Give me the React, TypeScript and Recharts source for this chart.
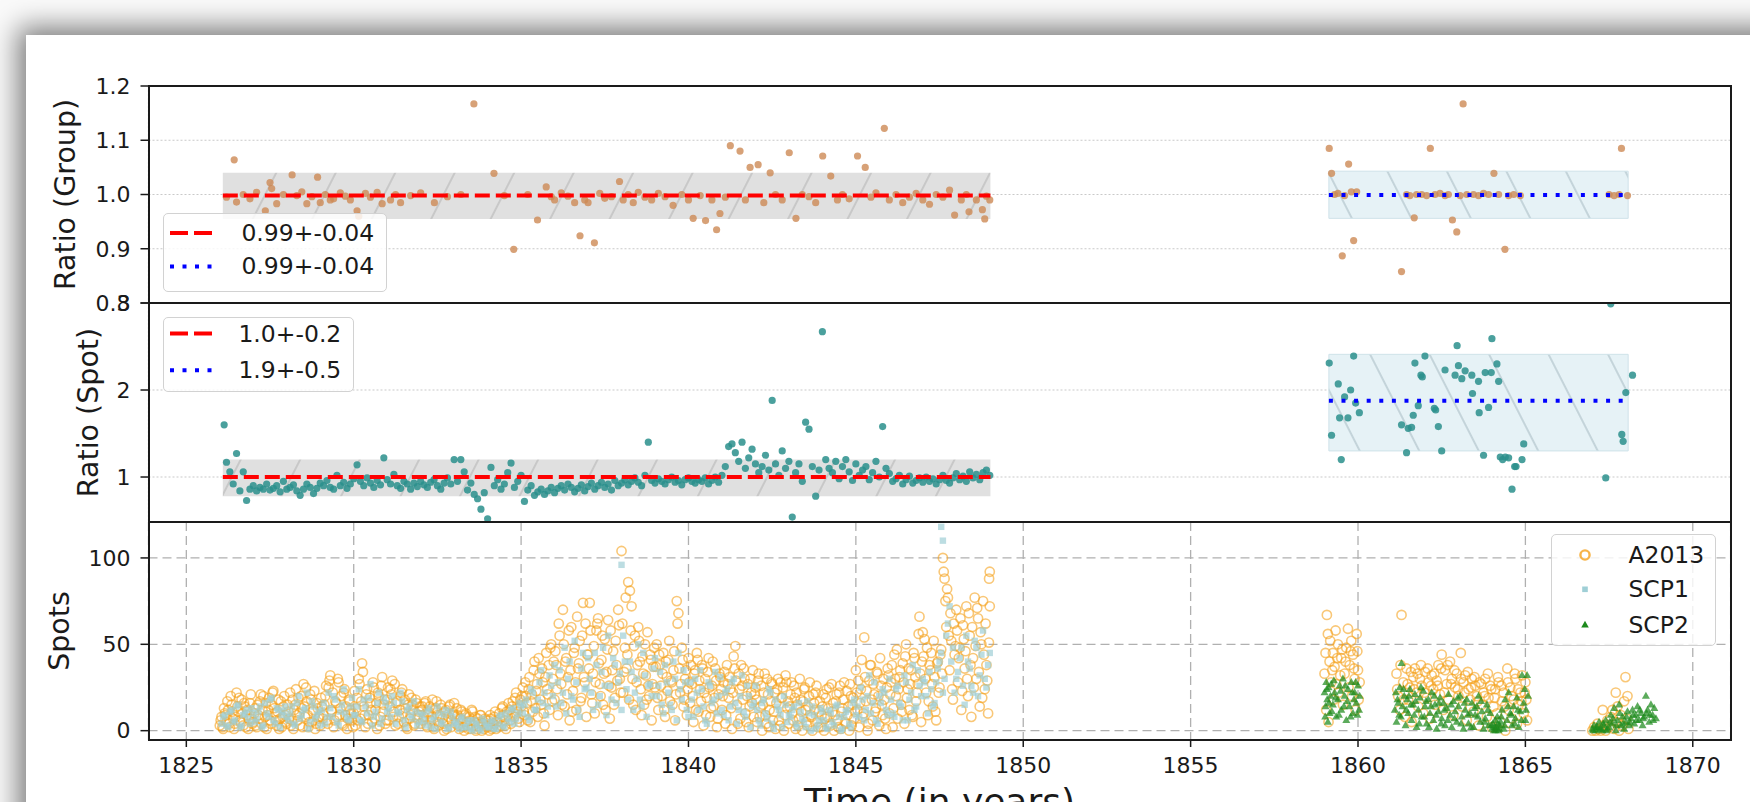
import React from 'react';
import { ScatterChart, Scatter, XAxis, YAxis, CartesianGrid, ReferenceArea } from 'recharts';

// ---- axes ----
const YEAR_TICKS = [1825, 1830, 1835, 1840, 1845, 1850, 1855, 1860, 1865, 1870];
const YEAR_DOMAIN = [1823.87, 1871.13];
const GROUP_TICKS = [0.8, 0.9, 1.0, 1.1, 1.2];
const SPOT_TICKS = [1, 2, 3];
const SPOTS_TICKS = [0, 50, 100];

// ---- fits: [from, to, mean, low, high] ----
const groupFitEarly = [1826.09, 1849.02, 0.998, 0.955, 1.04];
const groupFitLate = [1859.13, 1868.07, 0.999, 0.956, 1.043];
const spotFitEarly = [1826.09, 1849.02, 1.0, 0.78, 1.2];
const spotFitLate = [1859.13, 1868.07, 1.877, 1.3, 2.41];

const groupLegend = ['0.99+-0.04', '0.99+-0.04'];
const spotLegend = ['1.0+-0.2', '1.9+-0.5'];
const spotsLegend = ['A2013', 'SCP1', 'SCP2'];

// ---- ratio (group) points, [year, ratio] ----
const groupEarly = [
  [1826.2, 0.995], [1826.43, 1.064], [1826.5, 0.986], [1826.7, 1.0], [1826.9, 0.992], [1827.1, 1.004],
  [1827.36, 0.97], [1827.5, 1.022], [1827.55, 1.011], [1827.7, 0.983], [1827.9, 1.0], [1828.16, 1.036],
  [1828.3, 0.998], [1828.45, 1.005], [1828.6, 0.983], [1828.75, 0.996], [1828.92, 1.032], [1829.0, 0.985],
  [1829.15, 1.0], [1829.3, 0.99], [1829.4, 0.992], [1829.6, 1.003], [1829.75, 0.997], [1829.9, 0.99],
  [1830.1, 0.97], [1830.15, 0.96], [1830.35, 1.002], [1830.5, 0.995], [1830.7, 1.004], [1830.85, 0.983],
  [1831.1, 0.99], [1831.25, 1.0], [1831.4, 0.985], [1831.7, 0.998], [1832.0, 1.003], [1832.41, 0.985],
  [1832.8, 0.996], [1833.2, 1.0], [1833.59, 1.167], [1834.19, 1.039], [1834.5, 0.998], [1834.78, 0.899],
  [1835.2, 1.0], [1835.49, 0.953], [1835.75, 1.014], [1835.9, 0.996], [1836.0, 0.99], [1836.2, 1.003],
  [1836.4, 0.997], [1836.6, 0.985], [1836.76, 0.924], [1836.9, 0.99], [1837.0, 0.985], [1837.19, 0.911],
  [1837.35, 1.002], [1837.5, 0.993], [1837.7, 0.996], [1837.94, 1.024], [1838.05, 0.99], [1838.2, 1.0],
  [1838.35, 0.985], [1838.5, 1.004], [1838.7, 0.995], [1838.9, 0.99], [1839.1, 1.002], [1839.3, 0.996],
  [1839.54, 0.98], [1839.8, 1.0], [1840.0, 0.99], [1840.14, 0.956], [1840.35, 0.998], [1840.51, 0.952],
  [1840.7, 0.99], [1840.84, 0.935], [1840.94, 0.965], [1841.1, 0.995], [1841.25, 1.09], [1841.54, 1.08],
  [1841.7, 0.99], [1841.84, 1.05], [1842.08, 1.055], [1842.25, 0.985], [1842.44, 1.04], [1842.6, 1.0],
  [1842.8, 0.99], [1843.01, 1.077], [1843.21, 0.956], [1843.4, 1.0], [1843.6, 0.996], [1843.8, 0.985],
  [1844.01, 1.071], [1844.25, 1.034], [1844.45, 0.99], [1844.6, 1.0], [1844.8, 0.992], [1845.05, 1.071],
  [1845.28, 1.05], [1845.45, 0.995], [1845.6, 1.003], [1845.85, 1.122], [1846.0, 0.99], [1846.2, 1.0],
  [1846.4, 0.985], [1846.6, 0.995], [1846.8, 1.002], [1847.0, 0.99], [1847.2, 0.982], [1847.4, 1.0],
  [1847.6, 0.995], [1847.8, 1.008], [1847.95, 0.962], [1848.15, 0.99], [1848.3, 1.0], [1848.38, 0.968],
  [1848.6, 0.99], [1848.78, 0.972], [1848.85, 0.955], [1848.9, 0.997], [1849.0, 0.99],
];
const groupLate = [
  [1859.14, 1.085], [1859.21, 1.039], [1859.3, 1.0], [1859.4, 1.002], [1859.53, 0.887], [1859.6, 0.998],
  [1859.72, 1.056], [1859.8, 1.005], [1859.87, 0.915], [1859.96, 1.005], [1861.3, 0.858], [1861.45, 1.0],
  [1861.55, 0.998], [1861.68, 0.957], [1861.75, 1.0], [1861.9, 1.0], [1862.05, 0.998], [1862.16, 1.085],
  [1862.3, 1.0], [1862.45, 1.002], [1862.6, 0.998], [1862.7, 1.0], [1862.82, 0.953], [1862.95, 0.931],
  [1863.05, 0.998], [1863.14, 1.167], [1863.25, 1.0], [1863.45, 1.0], [1863.6, 0.998], [1863.75, 1.002],
  [1863.9, 1.0], [1864.06, 1.039], [1864.2, 1.0], [1864.39, 0.899], [1864.5, 0.998], [1864.65, 1.0],
  [1864.85, 0.998], [1867.5, 1.0], [1867.65, 0.998], [1867.8, 1.0], [1867.87, 1.085], [1868.05, 0.998],
];

// ---- ratio (spot): early period sampled every 0.1 yr from 1826.2 ----
const spotEarlyStart = 1826.2;
const spotEarly = [
  1.17, 1.06, 0.92, 1.27, 0.84, 1.06, 0.73, 0.86, 0.9, 0.84,
  0.88, 0.86, 0.92, 0.85, 0.87, 0.9, 0.83, 0.95, 0.86, 0.88,
  0.91, 0.84, 0.79, 0.86, 0.92, 0.88, 0.81, 0.87, 0.93, 0.9,
  0.96, 0.88, 0.86, 1.02, 0.9, 0.94, 0.87, 0.92, 0.98, 1.14,
  0.95, 0.9, 0.99, 0.93, 0.88, 0.96, 0.91, 1.22, 0.97, 0.92,
  1.03, 0.9, 0.87, 0.95, 0.92, 0.86, 0.93, 0.89, 0.95, 0.91,
  0.88, 0.94, 0.97, 0.9, 0.86, 0.93, 0.99, 0.92, 1.2, 0.95,
  1.2, 1.06, 0.85, 0.93, 0.8, 0.75, 0.63, 0.82, 0.52, 1.11,
  0.9, 0.97, 0.86, 0.92, 1.05, 1.16, 0.88, 0.95, 1.02, 0.72,
  0.85, 0.9, 0.79, 0.83, 0.86, 0.8, 0.84, 0.88, 0.82, 0.87,
  0.9, 0.85, 0.92, 0.88, 0.83, 0.87, 0.91, 0.84, 0.89, 0.93,
  0.86, 0.9, 0.94, 0.88, 0.92, 0.85, 0.96, 0.9, 0.93, 0.97,
  0.91, 0.95, 0.99, 0.94, 0.9, 1.02, 1.4, 0.96, 0.93, 0.98,
  0.95, 0.92, 0.97, 1.0, 0.94, 0.96, 0.91, 0.97, 0.99, 0.95,
  0.93, 0.97, 0.95, 0.99, 0.92, 0.96, 1.0, 0.94, 1.02, 1.12,
  1.35, 1.38, 1.28, 1.18, 1.4, 1.1, 1.22, 1.32, 1.15, 1.05,
  1.12, 1.25, 1.08, 1.88, 1.15, 1.02, 1.3, 1.1, 1.18, 0.54,
  1.05, 1.15, 0.95, 1.63, 1.55, 1.12, 0.78, 1.08, 2.67, 1.2,
  1.1, 1.05, 1.18, 0.98, 1.12, 1.2, 1.06, 0.96, 1.15, 1.02,
  1.08, 1.12, 0.97, 1.05, 1.18, 1.0, 1.58, 1.1, 1.04, 0.95,
  0.98, 1.02, 0.92, 0.97, 1.01, 0.93, 0.96, 0.99, 0.94, 1.0,
  0.95, 0.98, 0.92, 0.97, 1.02, 0.96, 0.93, 0.99, 1.04, 0.97,
  1.01, 0.95, 1.06, 0.99, 1.03, 0.97, 1.05, 1.08, 1.02,
];
const spotEarlyExtra = [[1826.13, 1.6]];
const spotLate = [
  [1859.14, 2.31], [1859.21, 1.48], [1859.41, 2.07], [1859.45, 1.68], [1859.5, 1.2], [1859.6, 1.92],
  [1859.7, 1.68], [1859.78, 2.0], [1859.87, 2.39], [1859.93, 1.85], [1860.04, 1.74], [1861.3, 1.6],
  [1861.45, 1.28], [1861.5, 1.56], [1861.6, 1.57], [1861.65, 1.71], [1861.7, 2.31], [1861.8, 1.82],
  [1861.88, 2.17], [1861.92, 2.15], [1862.0, 2.39], [1862.28, 1.79], [1862.32, 1.77], [1862.4, 1.58],
  [1862.5, 1.3], [1862.6, 2.23], [1862.9, 2.17], [1862.96, 2.51], [1863.0, 2.28], [1863.1, 2.13],
  [1863.2, 2.22], [1863.4, 2.17], [1863.42, 1.96], [1863.6, 2.1], [1863.62, 1.74], [1863.75, 1.25],
  [1863.8, 2.2], [1863.9, 1.8], [1863.98, 2.2], [1864.0, 2.59], [1864.15, 2.3], [1864.2, 2.1],
  [1864.25, 1.23], [1864.32, 1.2], [1864.4, 1.23], [1864.5, 1.22], [1864.6, 0.86], [1864.68, 1.12],
  [1864.72, 1.12], [1864.9, 1.2], [1864.95, 1.38], [1867.4, 0.99], [1867.55, 2.99], [1867.88, 1.49],
  [1867.92, 1.41], [1868.0, 1.97], [1868.2, 2.17],
];

// ---- spots: A2013 early period, two interleaved runs sampled every 0.05 yr ----
const a2013EarlyStart = 1826.0;
const a2013Early = [
  3, 8, 1, 10, 5, 12, 2, 15, 7, 4, 22, 11, 6, 18, 3, 14, 9, 1, 16, 7,
  5, 13, 2, 9, 17, 4, 20, 8, 1, 12, 6, 15, 23, 10, 3, 18, 7, 2, 14, 9,
  4, 11, 22, 6, 1, 15, 9, 19, 3, 13, 27, 8, 17, 2, 21, 5, 12, 1, 16, 7,
  3, 14, 9, 20, 6, 25, 32, 11, 2, 17, 8, 28, 13, 4, 22, 9, 1, 18, 12, 6,
  10, 3, 19, 30, 7, 39, 14, 2, 24, 9, 16, 5, 25, 12, 1, 20, 8, 31, 15, 4,
  18, 6, 24, 29, 11, 3, 17, 8, 20, 24, 5, 13, 1, 21, 9, 15, 3, 18, 7, 11,
  4, 14, 8, 17, 2, 11, 6, 18, 1, 13, 9, 3, 15, 7, 0, 12, 5, 14, 2, 9,
  16, 4, 9, 1, 12, 6, 0, 10, 3, 8, 1, 11, 5, 0, 7, 2, 9, 4, 1, 6,
  3, 0, 7, 2, 8, 1, 5, 10, 3, 14, 6, 1, 9, 12, 4, 17, 8, 22, 11, 5,
  14, 25, 9, 20, 6, 31, 17, 11, 40, 23, 8, 33, 15, 28, 3, 45, 21, 12, 50, 30,
  18, 38, 9, 55, 27, 70, 14, 42, 31, 6, 60, 23, 48, 12, 36, 52, 19, 74, 28, 8,
  44, 74, 21, 33, 10, 58, 65, 27, 41, 15, 53, 34, 64, 7, 25, 46, 19, 38, 70, 30,
  104, 22, 48, 36, 86, 81, 72, 15, 55, 28, 60, 40, 9, 33, 50, 18, 26, 44, 6, 37,
  25, 50, 12, 38, 20, 45, 8, 31, 41, 17, 28, 35, 6, 75, 68, 22, 48, 14, 30, 9,
  42, 16, 27, 5, 35, 45, 11, 24, 38, 3, 30, 19, 42, 8, 26, 14, 36, 2, 21, 31,
  12, 28, 4, 38, 19, 24, 1, 43, 49, 15, 33, 7, 26, 36, 10, 20, 2, 30, 16, 8,
  25, 5, 33, 14, 0, 22, 9, 30, 2, 17, 27, 11, 1, 24, 6, 28, 19, 0, 32, 13,
  4, 21, 10, 26, 1, 15, 7, 18, 0, 24, 12, 3, 20, 9, 0, 16, 22, 5, 11, 2,
  14, 0, 19, 8, 25, 3, 11, 0, 17, 6, 22, 1, 13, 28, 4, 9, 0, 20, 15, 7,
  35, 12, 2, 24, 8, 54, 17, 0, 29, 38, 6, 21, 13, 33, 3, 26, 9, 18, 1, 36,
  10, 28, 2, 44, 20, 7, 31, 15, 39, 4, 50, 24, 12, 35, 8, 42, 17, 27, 66, 5,
  57, 53, 22, 9, 38, 45, 14, 31, 6, 40, 25, 47, 100, 88, 60, 77, 35, 52, 18, 44,
  70, 28, 48, 12, 61, 36, 72, 20, 55, 8, 42, 77, 30, 65, 14, 50, 75, 24, 38, 10,
  92,
];
const a2013EarlyBStart = 1826.025;
const a2013EarlyB = [
  6, 2, 13, 9, 17, 4, 20, 11, 1, 8, 14, 19, 5, 10, 16, 2, 12, 7, 21, 4,
  10, 3, 15, 7, 21, 12, 2, 16, 9, 19, 4, 22, 13, 6, 11, 1, 17, 8, 20, 5,
  15, 7, 3, 18, 12, 24, 6, 10, 20, 2, 14, 25, 9, 5, 18, 11, 23, 4, 13, 8,
  19, 7, 15, 26, 4, 29, 12, 22, 6, 16, 30, 9, 20, 3, 24, 14, 7, 17, 10, 2,
  23, 13, 6, 27, 17, 34, 9, 21, 4, 19, 12, 28, 7, 16, 22, 3, 26, 11, 18, 6,
  25, 14, 21, 8, 27, 16, 4, 12, 22, 10, 18, 2, 15, 7, 19, 12, 4, 16, 9, 14,
  12, 6, 16, 3, 10, 14, 8, 2, 12, 17, 5, 9, 13, 4, 11, 1, 8, 15, 6, 10,
  9, 13, 3, 7, 11, 2, 9, 5, 1, 6, 12, 3, 8, 1, 5, 9, 0, 4, 7, 2,
  6, 9, 1, 4, 11, 5, 2, 7, 13, 9, 3, 11, 16, 6, 14, 10, 19, 13, 7, 18,
  20, 11, 28, 16, 24, 5, 21, 35, 13, 27, 42, 18, 36, 10, 31, 24, 38, 48, 17, 40,
  46, 24, 62, 33, 15, 50, 40, 21, 58, 35, 11, 45, 28, 66, 39, 17, 55, 31, 62, 44,
  36, 58, 16, 49, 28, 62, 39, 20, 55, 33, 12, 47, 26, 58, 35, 15, 52, 29, 61, 22,
  62, 34, 77, 44, 18, 58, 30, 49, 12, 38, 52, 24, 43, 15, 32, 57, 20, 41, 27, 48,
  37, 19, 44, 26, 33, 12, 40, 23, 52, 29, 15, 46, 21, 62, 36, 27, 41, 18, 35, 24,
  28, 38, 20, 33, 12, 41, 29, 17, 36, 22, 9, 34, 25, 13, 40, 19, 29, 7, 33, 24,
  20, 34, 9, 27, 31, 13, 22, 36, 29, 4, 24, 38, 18, 30, 5, 27, 14, 22, 35, 21,
  18, 29, 8, 26, 15, 33, 4, 21, 12, 28, 6, 22, 16, 30, 3, 19, 25, 9, 28, 17,
  14, 28, 6, 19, 22, 3, 30, 11, 17, 25, 5, 14, 28, 8, 21, 12, 26, 2, 17, 9,
  21, 7, 24, 13, 4, 27, 16, 9, 21, 2, 26, 11, 18, 5, 23, 14, 27, 3, 19, 11,
  22, 29, 16, 41, 10, 31, 23, 4, 38, 18, 27, 11, 34, 20, 42, 15, 30, 7, 25, 32,
  21, 38, 13, 30, 47, 24, 35, 11, 28, 43, 19, 36, 27, 9, 45, 31, 22, 56, 33, 40,
  43, 30, 48, 17, 35, 27, 52, 11, 39, 22, 44, 33, 92, 75, 82, 55, 68, 24, 62, 49,
  58, 42, 65, 23, 53, 46, 30, 68, 38, 60, 25, 49, 71, 34, 57, 19, 44, 62, 29, 51,
];
const a2013EarlyExtra = [[1848.98, 88], [1849.0, 72]];
const a2013Late = [
  [1859.0, 33], [1859.05, 12], [1859.07, 67], [1859.1, 56], [1859.12, 5], [1859.15, 40], [1859.2, 28],
  [1859.25, 45], [1859.28, 18], [1859.3, 37], [1859.35, 27], [1859.4, 50], [1859.42, 22], [1859.5, 42],
  [1859.55, 15], [1859.6, 33], [1859.65, 48], [1859.7, 59], [1859.72, 25], [1859.75, 38], [1859.8, 52],
  [1859.82, 20], [1859.85, 44], [1859.9, 30], [1859.93, 12], [1859.96, 56], [1860.0, 35], [1860.02, 18],
  [1860.05, 28], [1861.3, 67],
  [1859.03, 45], [1859.17, 52], [1859.23, 35], [1859.33, 58], [1859.38, 42], [1859.47, 32], [1859.53, 47],
  [1859.63, 40], [1859.78, 46], [1859.88, 36], [1859.98, 46],
  [1861.15, 33], [1861.2, 20], [1861.25, 12], [1861.35, 28], [1861.4, 8], [1861.45, 36], [1861.5, 18],
  [1861.55, 25], [1861.6, 5], [1861.65, 31], [1861.7, 36], [1861.75, 22], [1861.8, 14], [1861.85, 30],
  [1861.9, 26], [1861.95, 10], [1862.0, 34], [1862.05, 19], [1862.1, 28], [1862.15, 7], [1862.2, 32],
  [1862.25, 24], [1862.3, 15], [1862.35, 29], [1862.4, 38], [1862.45, 21], [1862.5, 44], [1862.55, 12],
  [1862.6, 35], [1862.65, 27], [1862.7, 18], [1862.75, 40], [1862.8, 30], [1862.85, 9], [1862.9, 25],
  [1862.95, 33], [1863.0, 20], [1863.07, 45], [1863.1, 14], [1863.15, 28], [1863.2, 32], [1863.25, 6],
  [1863.3, 24], [1863.35, 18], [1863.4, 30], [1863.45, 11], [1863.5, 26], [1863.55, 20], [1863.6, 3],
  [1863.63, 28], [1863.7, 15], [1863.75, 22], [1863.8, 30], [1863.85, 8], [1863.9, 19], [1863.95, 26],
  [1864.0, 2], [1864.05, 14], [1864.1, 24], [1864.15, 10], [1864.2, 28], [1864.25, 5], [1864.3, 17],
  [1864.35, 22], [1864.4, 0], [1864.46, 36], [1864.5, 12], [1864.55, 25], [1864.6, 7], [1864.65, 18],
  [1864.7, 30], [1864.75, 4], [1864.8, 15], [1864.85, 22], [1864.9, 32], [1864.95, 10], [1865.0, 28],
  [1865.03, 18], [1865.05, 6],
  [1861.17, 24], [1861.27, 38], [1861.37, 18], [1861.48, 27], [1861.58, 34], [1861.68, 24], [1861.78, 33],
  [1861.88, 38], [1861.98, 22], [1862.08, 36], [1862.18, 26], [1862.28, 33], [1862.38, 26], [1862.48, 36],
  [1862.58, 22], [1862.68, 38], [1862.78, 27], [1862.88, 35], [1862.98, 24], [1863.08, 30], [1863.18, 22],
  [1863.28, 34], [1863.38, 25], [1863.48, 31], [1863.58, 17], [1863.68, 27], [1863.78, 20], [1863.88, 33],
  [1863.98, 24], [1864.08, 19], [1864.18, 31], [1864.28, 26], [1864.38, 14], [1864.48, 28], [1864.58, 20],
  [1864.68, 33], [1864.78, 24], [1864.88, 17], [1864.98, 22],
  [1867.0, 0], [1867.05, 2], [1867.1, 0], [1867.15, 4], [1867.2, 1], [1867.25, 0], [1867.31, 12],
  [1867.35, 3], [1867.4, 0], [1867.45, 6], [1867.5, 2], [1867.55, 8], [1867.6, 12], [1867.65, 1],
  [1867.7, 22], [1867.72, 5], [1867.75, 14], [1867.8, 0], [1867.85, 9], [1867.9, 3], [1867.95, 17],
  [1867.99, 31], [1868.02, 7], [1868.05, 20], [1868.08, 1],
];

// ---- spots: SCP1 early period, two interleaved runs sampled every 0.1 yr ----
const scp1EarlyStart = 1826.05;
const scp1Early = [
  4, 9, 2, 12, 6, 15, 3, 10, 7, 13,
  5, 11, 2, 16, 8, 19, 4, 12, 9, 14,
  6, 14, 3, 20, 9, 13, 1, 17, 7, 11,
  12, 4, 22, 8, 18, 3, 15, 10, 6, 19,
  9, 24, 5, 14, 19, 3, 11, 22, 7, 16,
  13, 20, 4, 10, 17, 2, 14, 7, 11, 5,
  9, 3, 13, 6, 1, 10, 4, 12, 2, 8,
  5, 1, 8, 2, 6, 0, 4, 1, 7, 3,
  2, 6, 1, 8, 3, 10, 5, 13, 7, 16,
  10, 18, 6, 22, 12, 28, 16, 9, 32, 20,
  14, 35, 22, 10, 40, 18, 28, 8, 45, 25,
  30, 12, 38, 20, 48, 9, 26, 42, 16, 33,
  55, 24, 40, 12, 30, 18, 45, 8, 27, 36,
  20, 34, 10, 28, 15, 40, 6, 24, 35, 12,
  28, 8, 22, 35, 14, 4, 26, 18, 10, 31,
  9, 24, 14, 30, 4, 20, 11, 26, 2, 16,
  12, 3, 18, 7, 22, 1, 14, 9, 20, 5,
  8, 14, 2, 11, 5, 17, 0, 9, 3, 13,
  6, 1, 10, 3, 15, 0, 8, 12, 2, 18,
  14, 25, 6, 20, 10, 28, 4, 16, 22, 9,
  18, 8, 26, 14, 32, 6, 22, 12, 35, 20,
  28, 10, 24, 16, 36, 45, 30, 62, 40, 22,
  34, 48, 15, 40, 26, 52, 20, 44, 30, 38,
];
const scp1EarlyBStart = 1826.1;
const scp1EarlyB = [
  8, 3, 11, 5, 14, 2, 9, 12, 4, 10,
  7, 14, 3, 10, 18, 6, 13, 2, 11, 8,
  10, 4, 16, 7, 12, 22, 5, 14, 9, 3,
  16, 8, 13, 20, 5, 11, 24, 7, 14, 9,
  14, 6, 18, 10, 27, 8, 16, 4, 19, 11,
  8, 16, 11, 22, 6, 12, 9, 17, 3, 10,
  6, 11, 2, 8, 14, 5, 9, 1, 11, 4,
  3, 7, 2, 5, 1, 6, 3, 0, 5, 2,
  5, 1, 4, 9, 2, 7, 12, 4, 10, 14,
  15, 8, 24, 12, 18, 35, 22, 14, 26, 38,
  28, 16, 48, 30, 20, 52, 12, 36, 24, 42,
  22, 45, 15, 34, 26, 55, 18, 38, 28, 12,
  40, 18, 34, 22, 50, 14, 32, 26, 20, 42,
  26, 15, 38, 22, 12, 30, 45, 18, 28, 8,
  18, 30, 12, 24, 6, 28, 16, 34, 20, 12,
  22, 6, 28, 16, 12, 32, 8, 20, 14, 26,
  6, 16, 10, 24, 4, 18, 12, 2, 15, 9,
  12, 4, 16, 7, 2, 10, 14, 1, 6, 11,
  2, 12, 5, 14, 8, 1, 11, 4, 16, 9,
  8, 18, 12, 32, 16, 6, 20, 24, 12, 30,
  10, 24, 16, 6, 28, 18, 38, 14, 26, 30,
  20, 34, 14, 28, 40, 22, 55, 72, 48, 30,
  42, 26, 55, 36, 22, 48, 32, 58, 25, 45,
];
const scp1EarlyExtra = [[1838.0, 96], [1847.55, 118], [1847.6, 110]];

// ---- spots: SCP2, [year, spots] ----
const scp2Late = [
  [1859.0, 22], [1859.03, 14], [1859.05, 28], [1859.08, 18], [1859.1, 5], [1859.12, 25], [1859.15, 10],
  [1859.18, 20], [1859.2, 27], [1859.25, 15], [1859.3, 22], [1859.35, 8], [1859.4, 18], [1859.45, 26],
  [1859.5, 12], [1859.55, 30], [1859.6, 20], [1859.65, 6], [1859.7, 24], [1859.75, 14], [1859.8, 28],
  [1859.85, 10], [1859.9, 22], [1859.95, 16], [1860.0, 26], [1860.03, 12], [1860.05, 20],
  [1859.02, 8], [1859.07, 24], [1859.13, 16], [1859.22, 11], [1859.28, 29], [1859.33, 19], [1859.43, 9],
  [1859.48, 23], [1859.58, 14], [1859.62, 26], [1859.68, 17], [1859.78, 8], [1859.83, 22], [1859.88, 18],
  [1859.93, 28], [1859.98, 9],
  [1861.1, 12], [1861.13, 22], [1861.15, 5], [1861.2, 16], [1861.25, 25], [1861.28, 8], [1861.3, 39],
  [1861.33, 14], [1861.38, 20], [1861.42, 3], [1861.47, 18], [1861.5, 10], [1861.55, 24], [1861.6, 6],
  [1861.65, 15], [1861.7, 21], [1861.75, 2], [1861.8, 12], [1861.85, 19], [1861.9, 8], [1861.95, 23],
  [1862.0, 14], [1862.05, 4], [1862.1, 18], [1862.15, 10], [1862.2, 22], [1862.25, 6], [1862.3, 15],
  [1862.35, 1], [1862.4, 11], [1862.45, 19], [1862.5, 7], [1862.55, 16], [1862.6, 3], [1862.65, 13],
  [1862.7, 21], [1862.75, 9], [1862.8, 2], [1862.85, 17], [1862.9, 11], [1862.95, 5], [1863.0, 14],
  [1863.05, 20], [1863.1, 8], [1863.15, 1], [1863.2, 12], [1863.25, 18], [1863.3, 4], [1863.35, 10],
  [1863.4, 16], [1863.45, 2], [1863.5, 9], [1863.55, 14], [1863.6, 20], [1863.65, 5], [1863.7, 11],
  [1863.75, 1], [1863.8, 7], [1863.85, 15], [1863.9, 3], [1863.95, 10], [1864.0, 1], [1864.03, 4],
  [1864.06, 0], [1864.1, 6], [1864.13, 2], [1864.16, 8], [1864.2, 0], [1864.23, 3], [1864.26, 5],
  [1864.3, 12], [1864.35, 1], [1864.4, 18], [1864.45, 6], [1864.5, 22], [1864.55, 10], [1864.6, 3],
  [1864.65, 14], [1864.7, 7], [1864.75, 19], [1864.8, 2], [1864.85, 11], [1864.9, 32], [1864.95, 16],
  [1865.0, 6], [1865.05, 32], [1865.08, 20],
  [1861.18, 18], [1861.23, 9], [1861.36, 24], [1861.44, 12], [1861.52, 20], [1861.58, 15], [1861.68, 9],
  [1861.72, 17], [1861.83, 4], [1861.88, 25], [1861.98, 8], [1862.03, 17], [1862.12, 2], [1862.18, 14],
  [1862.28, 20], [1862.33, 9], [1862.42, 16], [1862.48, 4], [1862.58, 12], [1862.68, 6], [1862.78, 15],
  [1862.88, 7], [1862.98, 19], [1863.08, 4], [1863.18, 16], [1863.28, 9], [1863.38, 2], [1863.48, 13],
  [1863.58, 8], [1863.68, 17], [1863.78, 5], [1863.88, 12], [1863.98, 3], [1864.08, 2], [1864.11, 0],
  [1864.18, 4], [1864.22, 1], [1864.28, 8], [1864.38, 3], [1864.48, 14], [1864.58, 9], [1864.68, 4],
  [1864.78, 12], [1864.88, 6], [1864.98, 24], [1865.02, 12],
  [1867.0, 1], [1867.05, 3], [1867.1, 0], [1867.15, 2], [1867.2, 5], [1867.25, 1], [1867.3, 0],
  [1867.35, 3], [1867.4, 6], [1867.45, 1], [1867.5, 2], [1867.55, 9], [1867.6, 4], [1867.65, 13],
  [1867.7, 0], [1867.75, 6], [1867.8, 15], [1867.85, 3], [1867.9, 8], [1867.95, 1], [1868.0, 5],
  [1868.05, 11], [1868.1, 3], [1868.15, 7], [1868.2, 12], [1868.25, 4], [1868.3, 9], [1868.35, 14],
  [1868.4, 6], [1868.45, 10], [1868.5, 3], [1868.55, 8], [1868.6, 20], [1868.65, 12], [1868.7, 5],
  [1868.75, 15], [1868.8, 9], [1868.85, 13], [1868.9, 7],
  [1867.02, 0], [1867.12, 2], [1867.22, 1], [1867.32, 4], [1867.42, 0], [1867.52, 5], [1867.62, 7],
  [1867.72, 3], [1867.82, 10], [1867.92, 4], [1868.02, 8], [1868.12, 5], [1868.22, 9], [1868.32, 6],
  [1868.42, 12], [1868.52, 7], [1868.62, 10], [1868.72, 9], [1868.82, 6],
];

// ---- helpers ----
const pts = (pairs: number[][]) => pairs.map(([x, y]) => ({ x, y }));
const sampled = (start: number, step: number, vals: number[]) =>
  vals.map((y, i) => ({ x: +(start + i * step).toFixed(3), y }));
const fitLine = (f: number[]) => [{ x: f[0], y: f[2] }, { x: f[1], y: f[2] }];

const FONT = 'DejaVu Sans';
const INK = '#1a1a1a';
const RED = '#ff0000';
const BLUE = '#0000ff';
const GROUP_C = '#cd8a55';
const SPOT_C = '#2a8f8c';
const A_C = '#f5a11c';
const S1_C = '#9fcfd6';
const S2_C = '#1d8a1d';

const CHART_W = 1750;
const PLOT_L = 148.5;
const PLOT_R = 1730.6;
const MR = CHART_W - PLOT_R;

const dot = (color: string, op: number) => (p: any) => (
  <circle cx={p.cx} cy={p.cy} r={3.6} fill={color} fillOpacity={op} />
);
const ring = (p: any) => (
  <circle cx={p.cx} cy={p.cy} r={4.6} fill="none" stroke={A_C} strokeOpacity={0.6} strokeWidth={1.6} />
);
const square = (p: any) => (
  <rect x={p.cx - 3.2} y={p.cy - 3.2} width={6.4} height={6.4} fill={S1_C} fillOpacity={0.7} />
);
const tri = (p: any) => (
  <path d={`M${p.cx},${p.cy - 4.4}L${p.cx + 4},${p.cy + 2.7}L${p.cx - 4},${p.cy + 2.7}Z`} fill={S2_C} fillOpacity={0.72} />
);
const none = () => <g />;

const tickStyle = { fill: INK, fontSize: 22, fontFamily: FONT };

const sideLabel = (text: string, cx: number, cy: number) => ({
  content: () => (
    <text x={cx} y={cy} transform={`rotate(-90, ${cx}, ${cy})`} textAnchor="middle" dominantBaseline="central"
      fontSize={28.5} fontFamily={FONT} fill={INK}>{text}</text>
  ),
});

const Box = ({ top, height }: { top: number; height: number }) => (
  <div style={{
    position: 'absolute', left: PLOT_L - 1, top: top - 1, width: PLOT_R - PLOT_L + 2, height: height + 2,
    border: `2px solid ${INK}`, boxSizing: 'border-box', pointerEvents: 'none',
  }} />
);

const LegendBox = ({ left, top, width, height, children }: any) => (
  <div style={{
    position: 'absolute', left, top, width, height, boxSizing: 'border-box',
    border: '1px solid #d2d2d2', borderRadius: 5, background: 'rgba(255,255,255,0.82)',
  }}>
    <svg width={width} height={height} style={{ position: 'absolute', left: -1, top: -1 }}>{children}</svg>
  </div>
);

const legendText = (x: number, y: number, s: string) => (
  <text x={x} y={y} dominantBaseline="central" fontSize={23.5} fontFamily={FONT} fill={INK}>{s}</text>
);

const FitLegend = ({ left, top, width, height, rows, labels, textX }: any) => (
  <LegendBox left={left} top={top} width={width} height={height}>
    <line x1={7} x2={52} y1={rows[0]} y2={rows[0]} stroke={RED} strokeWidth={4} strokeDasharray="18 6" />
    <line x1={7} x2={52} y1={rows[1]} y2={rows[1]} stroke={BLUE} strokeWidth={4} strokeDasharray="4 8.5" />
    {legendText(textX, rows[0], labels[0])}
    {legendText(textX, rows[1], labels[1])}
  </LegendBox>
);

export default function App() {
  const gEarly = pts(groupEarly);
  const gLate = pts(groupLate);
  const sEarly = sampled(spotEarlyStart, 0.1, spotEarly).concat(pts(spotEarlyExtra));
  const sLate = pts(spotLate);
  const aAll = sampled(a2013EarlyStart, 0.05, a2013Early)
    .concat(sampled(a2013EarlyBStart, 0.05, a2013EarlyB), pts(a2013EarlyExtra), pts(a2013Late));
  const s1All = sampled(scp1EarlyStart, 0.1, scp1Early)
    .concat(sampled(scp1EarlyBStart, 0.1, scp1EarlyB), pts(scp1EarlyExtra));
  const s2All = pts(scp2Late);

  const gridTop = { stroke: '#c9c9c9', strokeDasharray: '2 2', strokeWidth: 1.2 };

  return (
    <div style={{ position: 'absolute', left: 0, top: 0, width: 1750, height: 802, overflow: 'hidden', background: '#fafafa' }}>
      <div style={{
        position: 'absolute', left: 26, top: 35, width: 1800, height: 900, background: '#fff',
        boxShadow: '0 0 26px 8px rgba(0,0,0,0.5)',
      }} />
      <svg width={0} height={0} style={{ position: 'absolute' }}>
        <defs>
          <pattern id="hatchGray" patternUnits="userSpaceOnUse" width={53} height={53} patternTransform="rotate(27)">
            <rect width={53} height={53} fill="#e0e0e0" />
            <line x1={26} y1={0} x2={26} y2={53} stroke="#b4b4b4" strokeWidth={1.1} />
          </pattern>
          <pattern id="hatchBlue" patternUnits="userSpaceOnUse" width={53} height={53} patternTransform="rotate(-27)">
            <rect width={53} height={53} fill="#e6f2f6" />
            <line x1={26} y1={0} x2={26} y2={53} stroke="#a9bcc3" strokeWidth={1.1} />
          </pattern>
        </defs>
      </svg>

      {/* Ratio (Group) */}
      <div style={{ position: 'absolute', left: 0, top: 74 }}>
        <ScatterChart width={CHART_W} height={241} margin={{ top: 12, right: MR, bottom: 12, left: 0 }}>
          <CartesianGrid {...gridTop} />
          <XAxis type="number" dataKey="x" domain={YEAR_DOMAIN} ticks={YEAR_TICKS} allowDataOverflow
            tick={false} tickLine={false} axisLine={false} height={0} />
          <YAxis type="number" dataKey="y" domain={[0.8, 1.2]} ticks={GROUP_TICKS} allowDataOverflow interval={0}
            width={PLOT_L} tick={tickStyle} tickFormatter={(v: number) => v.toFixed(1)} tickSize={8} tickMargin={10}
            tickLine={{ stroke: INK, strokeWidth: 1.5 }} axisLine={false}
            label={sideLabel('Ratio (Group)', 65, 12 + 108.5)} />
          <ReferenceArea x1={groupFitEarly[0]} x2={groupFitEarly[1]} y1={groupFitEarly[3]} y2={groupFitEarly[4]}
            fill="url(#hatchGray)" fillOpacity={1} stroke="none" />
          <ReferenceArea x1={groupFitLate[0]} x2={groupFitLate[1]} y1={groupFitLate[3]} y2={groupFitLate[4]}
            fill="url(#hatchBlue)" fillOpacity={1} stroke="#cfe2e9" strokeWidth={1} />
          <Scatter data={gEarly} shape={dot(GROUP_C, 0.8)} isAnimationActive={false} />
          <Scatter data={gLate} shape={dot(GROUP_C, 0.8)} isAnimationActive={false} />
          <Scatter data={fitLine(groupFitEarly)} shape={none} line={{ stroke: RED, strokeWidth: 4, strokeDasharray: '15 6' }} isAnimationActive={false} />
          <Scatter data={fitLine(groupFitLate)} shape={none} line={{ stroke: BLUE, strokeWidth: 4, strokeDasharray: '4 8.6' }} isAnimationActive={false} />
        </ScatterChart>
      </div>

      {/* Ratio (Spot) */}
      <div style={{ position: 'absolute', left: 0, top: 291 }}>
        <ScatterChart width={CHART_W} height={243} margin={{ top: 12, right: MR, bottom: 12, left: 0 }}>
          <CartesianGrid {...gridTop} />
          <XAxis type="number" dataKey="x" domain={YEAR_DOMAIN} ticks={YEAR_TICKS} allowDataOverflow
            tick={false} tickLine={false} axisLine={false} height={0} />
          <YAxis type="number" dataKey="y" domain={[0.483, 3.0]} ticks={SPOT_TICKS} allowDataOverflow interval={0}
            width={PLOT_L} tick={tickStyle} tickSize={8} tickMargin={10}
            tickLine={{ stroke: INK, strokeWidth: 1.5 }} axisLine={false}
            label={sideLabel('Ratio (Spot)', 88, 12 + 109.5)} />
          <ReferenceArea x1={spotFitEarly[0]} x2={spotFitEarly[1]} y1={spotFitEarly[3]} y2={spotFitEarly[4]}
            fill="url(#hatchGray)" fillOpacity={1} stroke="none" />
          <ReferenceArea x1={spotFitLate[0]} x2={spotFitLate[1]} y1={spotFitLate[3]} y2={spotFitLate[4]}
            fill="url(#hatchBlue)" fillOpacity={1} stroke="#cfe2e9" strokeWidth={1} />
          <Scatter data={sEarly} shape={dot(SPOT_C, 0.85)} isAnimationActive={false} />
          <Scatter data={sLate} shape={dot(SPOT_C, 0.85)} isAnimationActive={false} />
          <Scatter data={fitLine(spotFitEarly)} shape={none} line={{ stroke: RED, strokeWidth: 4, strokeDasharray: '15 6' }} isAnimationActive={false} />
          <Scatter data={fitLine(spotFitLate)} shape={none} line={{ stroke: BLUE, strokeWidth: 4, strokeDasharray: '4 8.6' }} isAnimationActive={false} />
        </ScatterChart>
      </div>

      {/* Spots */}
      <div style={{ position: 'absolute', left: 0, top: 510 }}>
        <ScatterChart width={CHART_W} height={330} margin={{ top: 12, right: MR, bottom: 0, left: 0 }}>
          <CartesianGrid stroke="#b0b0b0" strokeDasharray="9 5" strokeWidth={1.3} />
          <XAxis type="number" dataKey="x" domain={YEAR_DOMAIN} ticks={YEAR_TICKS} allowDataOverflow interval={0}
            height={100} tick={tickStyle} tickSize={7} tickMargin={10}
            tickLine={{ stroke: INK, strokeWidth: 1.5 }} axisLine={false}
            label={{
              content: () => (
                <text x={(PLOT_L + PLOT_R) / 2} y={304} textAnchor="middle" fontSize={36} fontFamily={FONT} fill={INK}>
                  Time (in years)
                </text>
              ),
            }} />
          <YAxis type="number" dataKey="y" domain={[-5.4, 120.8]} ticks={SPOTS_TICKS} allowDataOverflow interval={0}
            width={PLOT_L} tick={tickStyle} tickSize={8} tickMargin={10}
            tickLine={{ stroke: INK, strokeWidth: 1.5 }} axisLine={false}
            label={sideLabel('Spots', 59, 12 + 109)} />
          <Scatter data={aAll} shape={ring} isAnimationActive={false} />
          <Scatter data={s1All} shape={square} isAnimationActive={false} />
          <Scatter data={s2All} shape={tri} isAnimationActive={false} />
        </ScatterChart>
      </div>

      <Box top={86} height={217} />
      <Box top={303} height={219} />
      <Box top={522} height={218} />

      <FitLegend left={162.6} top={213.3} width={224.7} height={78.4} rows={[20, 53.4]} labels={groupLegend} textX={78.4} />
      <FitLegend left={162.6} top={316.7} width={191.4} height={75} rows={[16.6, 53.3]} labels={spotLegend} textX={75.4} />
      <LegendBox left={1551} top={534} width={165.4} height={112}>
        <circle cx={34} cy={21} r={4.6} fill="none" stroke={A_C} strokeWidth={2.4} strokeOpacity={0.8} />
        <rect x={31.2} y={52.5} width={5.6} height={5.6} fill={S1_C} />
        <path d="M34,86.8L37.8,93.6L30.2,93.6Z" fill={S2_C} />
        {legendText(77.4, 21, spotsLegend[0])}
        {legendText(77.4, 55.3, spotsLegend[1])}
        {legendText(77.4, 91, spotsLegend[2])}
      </LegendBox>
    </div>
  );
}
